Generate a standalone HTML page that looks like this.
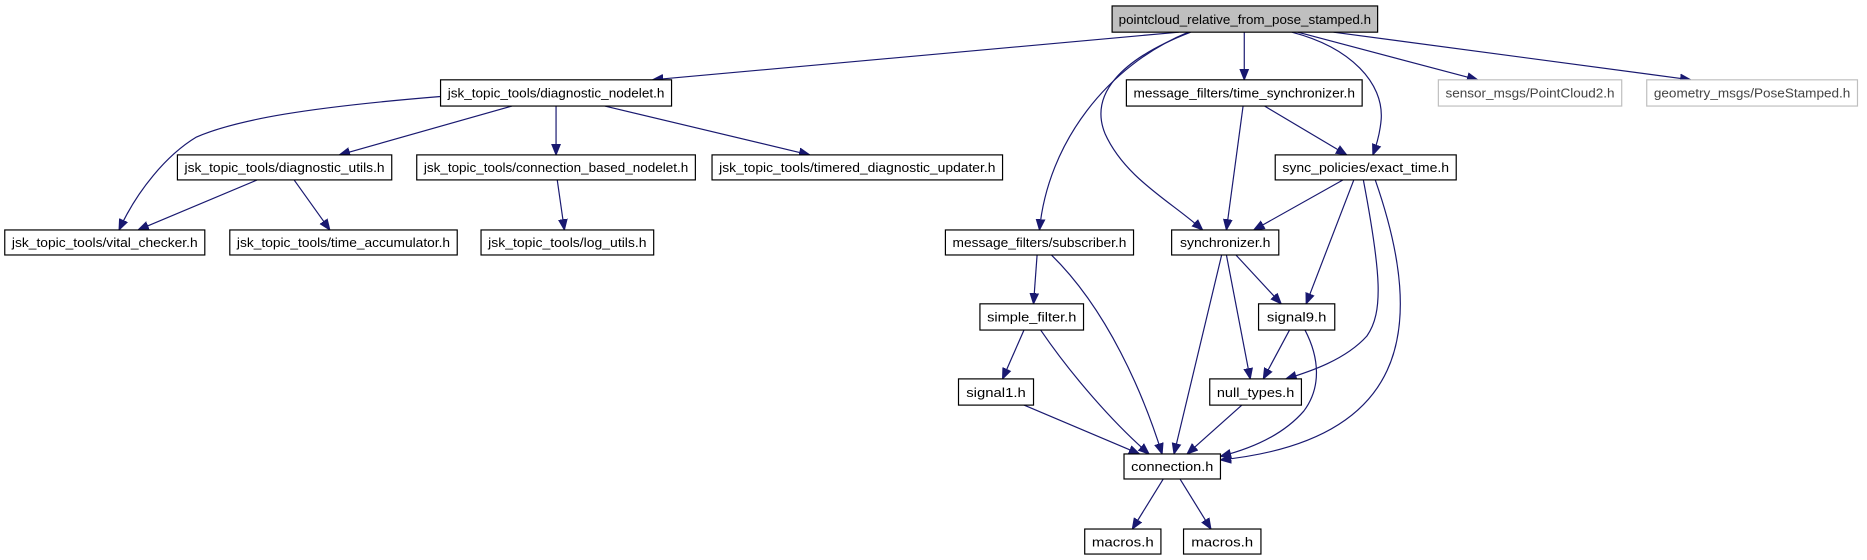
<!DOCTYPE html>
<html><head><meta charset="utf-8"><style>html,body{margin:0;padding:0;background:#fff}svg{display:block}</style></head>
<body>
<svg width="1867" height="560" viewBox="0 0 1568 470" preserveAspectRatio="none" xmlns="http://www.w3.org/2000/svg" font-family="'Liberation Sans', sans-serif" font-size="10.5">
<defs><marker id="a" viewBox="0 0 10 10" refX="10" refY="5" markerWidth="9" markerHeight="9" orient="auto" markerUnits="userSpaceOnUse"><path d="M0,1 L10,5 L0,9 z" fill="#191970" stroke="#191970"/></marker></defs>
<g fill="none" stroke="#191970" stroke-width="1" marker-end="url(#a)">
<path d="M990,27 L548,67"/>
<path d="M1045,27 L1045,67"/>
<path d="M1090,27 L1241,67"/>
<path d="M1120,27 L1420,67"/>
<path d="M998,27 C930,55 880,120 873,193"/>
<path d="M1000,27 C940,50 915,80 928,112 C945,150 985,170 1010,193"/>
<path d="M1085,27 C1135,40 1162,70 1160,100 C1159,112 1156,122 1153,130"/>
<path d="M370,81 C260,90 200,100 165,115 C140,130 115,160 100,193"/>
<path d="M430,89 L285,130"/>
<path d="M467,89 L467,130"/>
<path d="M508,89 L680,130"/>
<path d="M216,151 L116,193"/>
<path d="M247,151 L277,193"/>
<path d="M468,151 L474,193"/>
<path d="M1044,89 L1030,193"/>
<path d="M1062,89 L1131,130"/>
<path d="M1128,151 L1053,193"/>
<path d="M1137,151 L1097,255"/>
<path d="M1145,151 C1160,230 1162,262 1148,282 C1130,302 1100,312 1080,318"/>
<path d="M1155,151 C1200,280 1180,370 1025,386"/>
<path d="M1038,214 L1076,255"/>
<path d="M1030,214 L1050,318"/>
<path d="M1026,214 L986,381"/>
<path d="M871,214 L868,255"/>
<path d="M883,214 C930,260 960,330 976,381"/>
<path d="M860,277 L842,318"/>
<path d="M874,277 C900,315 935,355 965,381"/>
<path d="M860,340 L957,381"/>
<path d="M1083,277 L1061,318"/>
<path d="M1096,277 C1108,300 1110,325 1095,345 C1075,368 1045,378 1025,383"/>
<path d="M1043,340 L997,381"/>
<path d="M977,402 L951,444"/>
<path d="M991,402 L1017,444"/>
</g>
<g stroke="#000" stroke-width="1" fill="#fff">
<rect x="934" y="5" width="223" height="22" fill="#bfbfbf"/>
<rect x="370" y="67" width="194" height="22"/>
<rect x="946" y="67" width="198" height="22"/>
<rect x="1208" y="67" width="154" height="22" stroke="#bfbfbf"/>
<rect x="1383" y="67" width="177" height="22" stroke="#bfbfbf"/>
<rect x="149" y="130" width="180" height="21"/>
<rect x="350" y="130" width="234" height="21"/>
<rect x="598" y="130" width="244" height="21"/>
<rect x="1071" y="130" width="152" height="21"/>
<rect x="4" y="193" width="168" height="21"/>
<rect x="193" y="193" width="191" height="21"/>
<rect x="404" y="193" width="145" height="21"/>
<rect x="794" y="193" width="158" height="21"/>
<rect x="984" y="193" width="90" height="21"/>
<rect x="823" y="255" width="87" height="22"/>
<rect x="1057" y="255" width="64" height="22"/>
<rect x="805" y="318" width="63" height="22"/>
<rect x="1016" y="318" width="77" height="22"/>
<rect x="944" y="381" width="81" height="21"/>
<rect x="911" y="444" width="64" height="21"/>
<rect x="994" y="444" width="65" height="21"/>
</g>
<g fill="#000" text-anchor="middle">
<text x="1045.5" y="20" textLength="212" lengthAdjust="spacingAndGlyphs">pointcloud_relative_from_pose_stamped.h</text>
<text x="467" y="82" textLength="182" lengthAdjust="spacingAndGlyphs">jsk_topic_tools/diagnostic_nodelet.h</text>
<text x="1045" y="82" textLength="186" lengthAdjust="spacingAndGlyphs">message_filters/time_synchronizer.h</text>
<text x="1285" y="82" textLength="142" lengthAdjust="spacingAndGlyphs" fill="#444">sensor_msgs/PointCloud2.h</text>
<text x="1471.5" y="82" textLength="165" lengthAdjust="spacingAndGlyphs" fill="#444">geometry_msgs/PoseStamped.h</text>
<text x="239" y="144.5" textLength="168" lengthAdjust="spacingAndGlyphs">jsk_topic_tools/diagnostic_utils.h</text>
<text x="467" y="144.5" textLength="222" lengthAdjust="spacingAndGlyphs">jsk_topic_tools/connection_based_nodelet.h</text>
<text x="720" y="144.5" textLength="232" lengthAdjust="spacingAndGlyphs">jsk_topic_tools/timered_diagnostic_updater.h</text>
<text x="1147" y="144.5" textLength="140" lengthAdjust="spacingAndGlyphs">sync_policies/exact_time.h</text>
<text x="88" y="207.5" textLength="156" lengthAdjust="spacingAndGlyphs">jsk_topic_tools/vital_checker.h</text>
<text x="288.5" y="207.5" textLength="179" lengthAdjust="spacingAndGlyphs">jsk_topic_tools/time_accumulator.h</text>
<text x="476.5" y="207.5" textLength="133" lengthAdjust="spacingAndGlyphs">jsk_topic_tools/log_utils.h</text>
<text x="873" y="207.5" textLength="146" lengthAdjust="spacingAndGlyphs">message_filters/subscriber.h</text>
<text x="1029" y="207.5" textLength="76" lengthAdjust="spacingAndGlyphs">synchronizer.h</text>
<text x="866.5" y="270" textLength="75" lengthAdjust="spacingAndGlyphs">simple_filter.h</text>
<text x="1089" y="270" textLength="50" lengthAdjust="spacingAndGlyphs">signal9.h</text>
<text x="836.5" y="333" textLength="50" lengthAdjust="spacingAndGlyphs">signal1.h</text>
<text x="1054.5" y="333" textLength="65" lengthAdjust="spacingAndGlyphs">null_types.h</text>
<text x="984.5" y="395.5" textLength="69" lengthAdjust="spacingAndGlyphs">connection.h</text>
<text x="943" y="458.5" textLength="52" lengthAdjust="spacingAndGlyphs">macros.h</text>
<text x="1026.5" y="458.5" textLength="52" lengthAdjust="spacingAndGlyphs">macros.h</text>
</g>
</svg>
</body></html>
